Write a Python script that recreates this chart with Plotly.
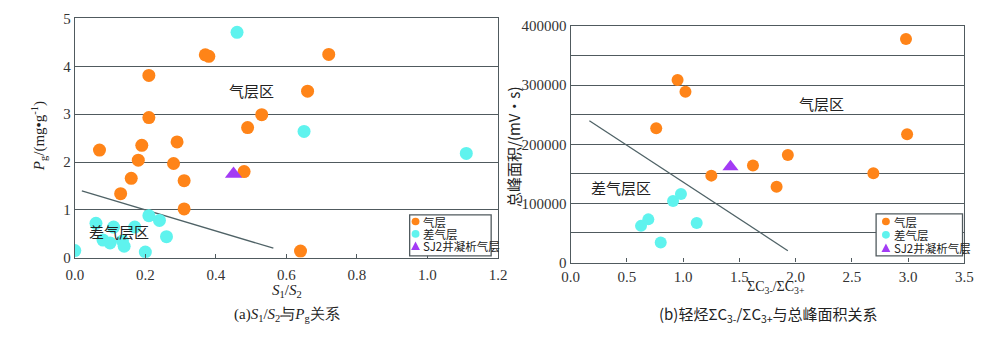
import plotly.graph_objects as go

# ---------- Data: panel (a) S1/S2 vs Pg ----------
a_gas_x = [0.07, 0.13, 0.16, 0.18, 0.19, 0.21, 0.21, 0.28, 0.29, 0.31, 0.31, 0.37, 0.38,
           0.48, 0.49, 0.53, 0.64, 0.66, 0.72]
a_gas_y = [2.25, 1.34, 1.66, 2.04, 2.35, 3.81, 2.93, 1.97, 2.42, 1.61, 1.02, 4.24, 4.21,
           1.80, 2.72, 2.99, 0.14, 3.48, 4.25]
a_poor_x = [0.00, 0.06, 0.08, 0.10, 0.11, 0.135, 0.14, 0.17, 0.20, 0.21, 0.24, 0.26, 0.46, 0.65, 1.11]
a_poor_y = [0.15, 0.72, 0.37, 0.31, 0.64, 0.35, 0.24, 0.64, 0.12, 0.88, 0.78, 0.44, 4.71, 2.64, 2.18]
a_sj2_x = [0.45]
a_sj2_y = [1.75]
a_line_x = [0.02, 0.563]
a_line_y = [1.40, 0.20]

# ---------- Data: panel (b) ΣC3-/ΣC3+ vs total peak area ----------
b_gas_x = [0.76, 0.95, 1.02, 1.25, 1.62, 1.83, 1.93, 2.69, 2.98, 2.99]
b_gas_y = [227000, 309000, 289000, 147000, 164000, 128000, 182000, 151000, 378000, 217000]
b_poor_x = [0.625, 0.69, 0.80, 0.91, 0.98, 1.12]
b_poor_y = [62000, 73000, 34000, 104000, 116000, 67000]
b_sj2_x = [1.42]
b_sj2_y = [162000]
b_line_x = [0.166, 1.93]
b_line_y = [240000, 20000]

legend_names = ["气层", "差气层", "SJ2井凝析气层"]

ORANGE = "#FF8418"
CYAN = "#5FF3EE"
PURPLE = "#A33BF5"
GRID = "#505A5E"
SERIF = "Liberation Serif"
CJK = "Noto Sans CJK SC"

H = 342.0
W = 1000.0

fig = go.Figure()

def add_panel(xa, ya, gx, gy, px_, py_, sx, sy, lx, ly, msize):
    fig.add_trace(go.Scatter(x=lx, y=ly, mode="lines", line=dict(color="#4F6266", width=1.3),
                             xaxis=xa, yaxis=ya, showlegend=False, hoverinfo="skip"))
    fig.add_trace(go.Scatter(x=gx, y=gy, mode="markers", name=legend_names[0],
                             marker=dict(color=ORANGE, size=msize),
                             xaxis=xa, yaxis=ya, showlegend=False))
    fig.add_trace(go.Scatter(x=px_, y=py_, mode="markers", name=legend_names[1],
                             marker=dict(color=CYAN, size=msize),
                             xaxis=xa, yaxis=ya, showlegend=False))
    fig.add_trace(go.Scatter(x=sx, y=sy, mode="markers", name=legend_names[2],
                             marker=dict(color=PURPLE, size=msize + 2, symbol="triangle-up"),
                             xaxis=xa, yaxis=ya, showlegend=False))

add_panel("x", "y", a_gas_x, a_gas_y, a_poor_x, a_poor_y, a_sj2_x, a_sj2_y, a_line_x, a_line_y, 13)
add_panel("x2", "y2", b_gas_x, b_gas_y, b_poor_x, b_poor_y, b_sj2_x, b_sj2_y, b_line_x, b_line_y, 12)

axis_common = dict(showline=True, linecolor=GRID, linewidth=1.3, mirror=True,
                   tickfont=dict(family=SERIF, size=15, color="#333"), zeroline=False)

fig.update_layout(
    width=1000, height=342, margin=dict(l=0, r=0, t=0, b=0),
    paper_bgcolor="white", plot_bgcolor="white", showlegend=False,
    xaxis=dict(domain=[67 / W, 498 / W], range=[0, 1.2], tickvals=[0, 0.2, 0.4, 0.6, 0.8, 1.0, 1.2],
               ticktext=["0.0", "0.2", "0.4", "0.6", "0.8", "1.0", "1.2"], showgrid=False,
               ticks="inside", ticklen=4, tickcolor=GRID, ticklabelstandoff=3, **axis_common),
    yaxis=dict(domain=[1 - 262 / H, 1 - 11 / H], range=[0, 5], tickvals=[0, 1, 2, 3, 4, 5],
               showgrid=True, gridcolor=GRID, gridwidth=1.3, ticks="", **axis_common),
    xaxis2=dict(domain=[572 / W, 973 / W], range=[0, 3.5],
                tickvals=[0, 0.5, 1.0, 1.5, 2.0, 2.5, 3.0, 3.5],
                ticktext=["0.0", "0.5", "1.0", "1.5", "2.0", "2.5", "3.0", "3.5"], showgrid=False,
                ticks="inside", ticklen=4, tickcolor=GRID, anchor="y2", **axis_common),
    yaxis2=dict(domain=[1 - 267 / H, 1 - 19 / H], range=[0, 400000],
                tickvals=[0, 50000, 100000, 150000, 200000, 250000, 300000, 350000, 400000],
                ticktext=["0", "", "100000", "", "200000", "", "300000", "", "400000"],
                showgrid=True, gridcolor=GRID, gridwidth=1.3, ticks="", anchor="x2", **axis_common),
)

ann = []
shapes = []

def txt(x, y, text, size=15, family=CJK, angle=0, xref="paper", yref="paper", xanchor="center"):
    ann.append(dict(x=x, y=y, xref=xref, yref=yref, text=text, showarrow=False,
                    font=dict(family=family, size=size, color="#222"), textangle=angle,
                    xanchor=xanchor, yanchor="middle"))

# axis titles (paper coords from pixel positions)
txt(30 / W, 1 - 134 / H, "<i>P</i><sub>g</sub>/(mg•g<sup>-1</sup>)", size=15, family=SERIF, angle=-90)
txt(283 / W, 1 - 297 / H, "<i>S</i><sub>1</sub>/<i>S</i><sub>2</sub>", size=15, family=SERIF)
txt(283 / W, 1 - 322 / H, "(a)<i>S</i><sub>1</sub>/<i>S</i><sub>2</sub>与<i>P</i><sub>g</sub>关系", size=15, family=SERIF)
txt(513 / W, 1 - 146 / H, "总峰面积/(mV•s)", size=15, family=CJK, angle=-90)
txt(781 / W, 1 - 293 / H, "ΣC<sub>3-</sub>/ΣC<sub>3+</sub>", size=14, family=SERIF)
txt(773 / W, 1 - 322 / H, "(b)轻烃ΣC<sub>3-</sub>/ΣC<sub>3+</sub>与总峰面积关系", size=15, family=CJK)
# region labels (data coords)
txt(0.50, 3.5, "气层区", size=15, xref="x", yref="y")
txt(0.126, 0.54, "差气层区", size=15, xref="x", yref="y")
txt(2.23, 269000, "气层区", size=15, xref="x2", yref="y2")
txt(0.45, 127000, "差气层区", size=15, xref="x2", yref="y2")

# custom compact legends (pixel boxes converted to paper coords)
def legend_box(x0, y0, x1, y1, mx, tx, rows):
    shapes.append(dict(type="rect", xref="paper", yref="paper",
                       x0=x0 / W, x1=x1 / W, y0=1 - y1 / H, y1=1 - y0 / H,
                       line=dict(color=GRID, width=1.3), fillcolor="white", layer="above"))
    for (ry, name, col, sym) in zip(rows, legend_names, [ORANGE, CYAN, PURPLE],
                                    ["circle", "circle", "triangle"]):
        r = 4.0
        if sym == "circle":
            shapes.append(dict(type="circle", xref="paper", yref="paper",
                               x0=(mx - r) / W, x1=(mx + r) / W, y0=1 - (ry + r) / H, y1=1 - (ry - r) / H,
                               fillcolor=col, line=dict(width=0), layer="above"))
        else:
            p = "M {:.5f} {:.5f} L {:.5f} {:.5f} L {:.5f} {:.5f} Z".format(
                (mx - 4.5) / W, 1 - (ry + 4) / H, (mx + 4.5) / W, 1 - (ry + 4) / H, mx / W, 1 - (ry - 5) / H)
            shapes.append(dict(type="path", xref="paper", yref="paper", path=p,
                               fillcolor=col, line=dict(width=0), layer="above"))
        txt(tx / W, 1 - ry / H, name, size=11.5, family=CJK, xanchor="left")

legend_box(408, 217, 491, 260, 414, 420, [224, 237, 250])
legend_box(883, 216, 971, 260, 893, 899, [224, 238, 252])

fig.update_layout(annotations=ann, shapes=shapes)
fig.write_html("out.html")
